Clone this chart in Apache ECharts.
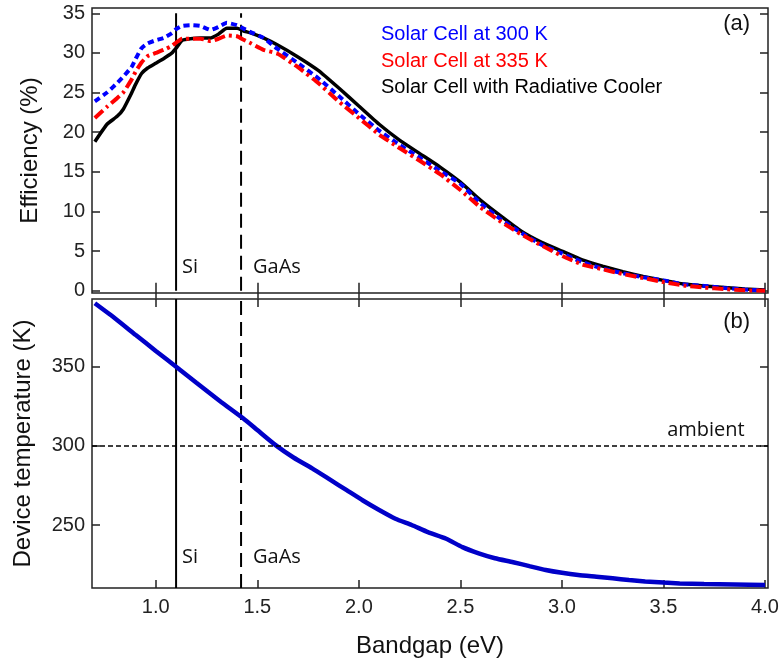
<!DOCTYPE html>
<html>
<head>
<meta charset="utf-8">
<script src="https://cdn.jsdelivr.net/npm/echarts@6/dist/echarts.min.js"></script>
<style>
  html, body { margin: 0; padding: 0; background: #fff; }
  #chart { width: 782px; height: 660px; }
</style>
</head>
<body>
<div id="chart"></div>
<script>
// ---- data ----
const bandgap = [0.70,0.76,0.81,0.84,0.88,0.90,0.93,0.96,1.00,1.04,1.08,1.10,1.13,1.17,1.22,1.27,1.31,1.35,1.40,1.43,1.47,1.53,1.60,1.70,1.80,1.90,2.00,2.10,2.20,2.30,2.40,2.50,2.60,2.70,2.80,2.90,3.00,3.10,3.20,3.30,3.40,3.50,3.60,3.70,3.80,3.90,4.00];
const eff300 = [23.9,25.0,26.2,27.0,28.2,29.2,30.6,31.2,31.6,31.9,32.5,33.0,33.4,33.5,33.4,32.9,33.3,33.8,33.5,33.1,32.6,31.9,30.5,28.7,26.8,24.6,22.3,20.2,18.4,16.8,15.1,13.5,11.0,9.0,7.3,5.8,4.7,3.6,2.8,2.2,1.7,1.3,0.8,0.6,0.35,0.15,0.0];
const eff335 = [21.8,23.2,24.3,25.0,26.6,27.6,28.8,29.6,30.0,30.4,30.9,31.3,31.8,31.8,31.8,31.5,31.8,32.2,32.1,31.7,31.2,30.4,29.9,28.2,26.2,23.9,21.8,19.7,18.0,16.4,14.7,12.7,10.5,8.7,7.1,5.7,4.4,3.3,2.7,2.1,1.6,1.1,0.65,0.4,0.2,0.05,0.0];
const effCooler = [18.8,21.0,22.0,22.9,24.9,26.0,27.4,28.1,28.7,29.3,30.0,30.6,31.6,31.8,31.9,31.9,32.4,33.1,33.1,32.8,32.5,31.9,31.0,29.5,27.8,25.6,23.3,21.0,19.0,17.3,15.6,13.7,11.4,9.4,7.5,6.1,5.0,3.9,3.1,2.4,1.8,1.3,0.85,0.6,0.4,0.2,0.1];

const bandgapT = [0.70,0.80,0.90,1.00,1.10,1.20,1.32,1.43,1.50,1.59,1.68,1.77,1.86,1.94,2.02,2.10,2.18,2.26,2.34,2.43,2.51,2.59,2.67,2.76,2.84,2.92,3.00,3.08,3.17,3.25,3.33,3.41,3.50,3.58,3.70,3.85,4.00];
const deviceTemp = [390.1,380.5,370.2,360.0,350.0,339.9,327.9,317.4,310.0,300.5,292.5,285.8,278.5,272.0,265.5,259.5,254.0,250.0,245.5,241.3,236.0,232.1,229.0,226.5,224.0,221.6,219.8,218.4,217.3,216.3,215.2,214.3,213.6,213.1,212.7,212.4,212.1];

const materials = ['Si', 'GaAs'];
const materialGaps = [1.10, 1.42];
const ambientTemp = 300;

const seriesNames = ['Solar Cell at 300 K', 'Solar Cell at 335 K', 'Solar Cell with Radiative Cooler'];
const xTicks = [1.0, 1.5, 2.0, 2.5, 3.0, 3.5, 4.0];
const effTicks = [0, 5, 10, 15, 20, 25, 30, 35];
const tempTicks = [250, 300, 350];

// axis ranges
const xMin = 0.686, xMax = 4.0147;
const effMin = -0.29, effMax = 35.67;
const tMin = 210.2, tMax = 392.8;
const effLineTop = 35;

const zip = (xs, ys) => xs.map((x, i) => [x, ys[i]]);

const tickFont = 'Liberation Sans, Arial, sans-serif';
const axisColor = '#222';

function xAx(grid, pos, labels, name) {
  return {
    type: 'value', gridIndex: grid, position: pos, min: xMin, max: xMax,
    name: name || '', nameLocation: 'middle', nameGap: 46,
    nameTextStyle: { fontSize: 24, fontFamily: tickFont, color: '#111' },
    axisLine: { show: false },
    axisTick: { show: true, inside: true, length: 8, customValues: xTicks, lineStyle: { color: axisColor, width: 1.5 } },
    axisLabel: { show: labels, customValues: xTicks, formatter: v => v.toFixed(1), fontSize: 20, fontFamily: tickFont, color: '#222', margin: 9 },
    splitLine: { show: false }
  };
}
function yAx(grid, pos, labels, mn, mx, ticks, name, gap) {
  return {
    type: 'value', gridIndex: grid, position: pos, min: mn, max: mx,
    name: name || '', nameLocation: 'middle', nameGap: gap || 50, nameRotate: 90,
    nameTextStyle: { fontSize: 24, fontFamily: tickFont, color: '#111' },
    axisLine: { show: false },
    axisTick: { show: true, inside: true, length: 8, customValues: ticks, lineStyle: { color: axisColor, width: 1.5 } },
    axisLabel: { show: labels, customValues: ticks, fontSize: 20, fontFamily: tickFont, color: '#222', margin: 7 },
    splitLine: { show: false }
  };
}

const vLineStyles = [
  { color: '#000', width: 2, type: 'solid' },
  { color: '#000', width: 2, type: [14, 7] }
];

const series = [];
// efficiency curves (draw order: cooler, 300 K, 335 K)
series.push({
  name: seriesNames[2], type: 'line', xAxisIndex: 0, yAxisIndex: 0, showSymbol: false, symbol: 'none', smooth: 0.15,
  data: zip(bandgap, effCooler), lineStyle: { color: '#000', width: 3.5 }, itemStyle: { color: '#000' }, z: 3
});
series.push({
  name: seriesNames[0], type: 'line', xAxisIndex: 0, yAxisIndex: 0, showSymbol: false, symbol: 'none', smooth: 0.15,
  data: zip(bandgap, eff300), lineStyle: { color: '#0000ff', width: 4, type: [6, 4] }, itemStyle: { color: '#0000ff' }, z: 4
});
series.push({
  name: seriesNames[1], type: 'line', xAxisIndex: 0, yAxisIndex: 0, showSymbol: false, symbol: 'none', smooth: 0.15,
  data: zip(bandgap, eff335), lineStyle: { color: '#ff0000', width: 4, type: [11, 4, 3, 4] }, itemStyle: { color: '#ff0000' }, z: 5
});
// material bandgap lines
materials.forEach((m, i) => {
  series.push({
    name: m + ' (a)', type: 'line', xAxisIndex: 0, yAxisIndex: 0, symbol: 'none', silent: true,
    data: [[materialGaps[i], 0], [materialGaps[i], effLineTop]], lineStyle: vLineStyles[i], z: 2
  });
  series.push({
    name: m + ' (b)', type: 'line', xAxisIndex: 2, yAxisIndex: 2, symbol: 'none', silent: true,
    data: [[materialGaps[i], tMin], [materialGaps[i], tMax]], lineStyle: vLineStyles[i], z: 2
  });
});
// device temperature
series.push({
  name: 'Device temperature', type: 'line', xAxisIndex: 2, yAxisIndex: 2, showSymbol: false, symbol: 'none', smooth: 0.2,
  data: zip(bandgapT, deviceTemp), lineStyle: { color: '#0000c8', width: 4.5 }, z: 4,
  markLine: {
    silent: true, symbol: 'none', label: { show: false },
    lineStyle: { color: '#000', width: 1.5, type: [5, 3] },
    data: [{ yAxis: ambientTemp }]
  }
});

const option = {
  animation: false,
  backgroundColor: '#fff',
  grid: [
    { left: 92, right: 14, top: 8, height: 285, show: true, borderColor: '#222', borderWidth: 1.5, backgroundColor: 'transparent' },
    { left: 92, right: 14, top: 299, height: 289, show: true, borderColor: '#222', borderWidth: 1.5, backgroundColor: 'transparent' }
  ],
  legend: {
    orient: 'vertical', left: 371, top: 19, itemWidth: 0, itemHeight: 14, itemGap: 5.5, icon: 'none',
    selectedMode: false,
    textStyle: { fontSize: 20, fontFamily: tickFont, lineHeight: 21 },
    data: [
      { name: seriesNames[0], textStyle: { color: '#0000ff' } },
      { name: seriesNames[1], textStyle: { color: '#ff0000' } },
      { name: seriesNames[2], textStyle: { color: '#000000' } }
    ]
  },
  xAxis: [
    xAx(0, 'bottom', false),
    xAx(0, 'top', false),
    xAx(1, 'bottom', true, 'Bandgap (eV)'),
    xAx(1, 'top', false)
  ],
  yAxis: [
    yAx(0, 'left', true, effMin, effMax, effTicks, 'Efficiency (%)', 50),
    yAx(0, 'right', false, effMin, effMax, effTicks),
    yAx(1, 'left', true, tMin, tMax, tempTicks, 'Device temperature (K)', 57),
    yAx(1, 'right', false, tMin, tMax, tempTicks)
  ],
  series: series
};

const chart = echarts.init(document.getElementById('chart'), null, { renderer: 'canvas' });
chart.setOption(option);

// annotation texts anchored to data coordinates
const annFont = '"Open Sans", "Noto Sans", sans-serif';
const graphics = [];
const labelEff = 3.0, labelT = 229.3;
const labelDx = [6, 12];
materials.forEach((m, i) => {
  const pa = chart.convertToPixel({ gridIndex: 0 }, [materialGaps[i], labelEff]);
  const pb = chart.convertToPixel({ gridIndex: 1 }, [materialGaps[i], labelT]);
  [pa, pb].forEach(p => graphics.push({
    type: 'text', x: p[0] + labelDx[i], y: p[1],
    style: { text: m, font: '20px ' + annFont, fill: '#111', textAlign: 'left', textVerticalAlign: 'middle' }
  }));
});
const pAmb = chart.convertToPixel({ gridIndex: 1 }, [3.90, 310]);
graphics.push({ type: 'text', x: pAmb[0], y: pAmb[1],
  style: { text: 'ambient', font: '20px ' + annFont, fill: '#111', textAlign: 'right', textVerticalAlign: 'middle' } });
const pA = chart.convertToPixel({ gridIndex: 0 }, [3.86, 33.6]);
graphics.push({ type: 'text', x: pA[0], y: pA[1],
  style: { text: '(a)', font: '22px ' + tickFont, fill: '#111', textAlign: 'center', textVerticalAlign: 'middle' } });
const pB = chart.convertToPixel({ gridIndex: 1 }, [3.86, 378.4]);
graphics.push({ type: 'text', x: pB[0], y: pB[1],
  style: { text: '(b)', font: '22px ' + tickFont, fill: '#111', textAlign: 'center', textVerticalAlign: 'middle' } });
chart.setOption({ graphic: graphics });
</script>
</body>
</html>
